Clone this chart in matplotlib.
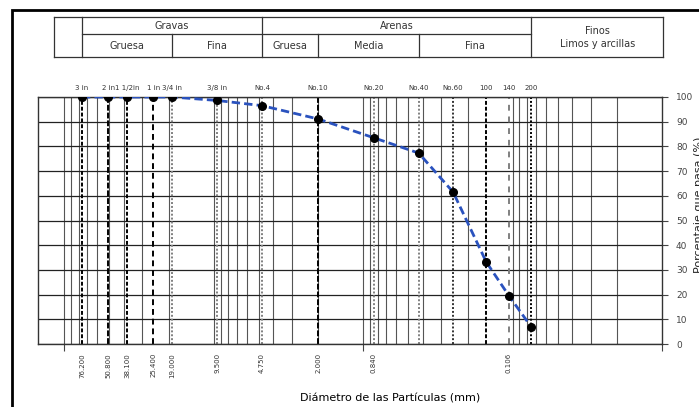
import numpy as np
import matplotlib.pyplot as plt
from matplotlib.patches import Rectangle

# --------------------------
# datos de la curva granulometrica
sieve_names = ["3 in", "2 in", "1 1/2in", "1 in", "3/4 in", "3/8 in", "No.4",
               "No.10", "No.20", "No.40", "No.60", "100", "140", "200"]
sieve_mm = [76.2, 50.8, 38.1, 25.4, 19.0, 9.5, 4.75, 2.0, 0.85, 0.425, 0.25,
            0.15, 0.106, 0.075]
passing = [100, 100, 100, 100, 100, 98.6, 96.5, 91.1, 83.5, 77.3, 61.5,
           33.2, 19.6, 6.9]

bottom_mm = [76.2, 50.8, 38.1, 25.4, 19.0, 9.5, 4.75, 2.0, 0.85, 0.106]
bottom_labels = ["76.200", "50.800", "38.100", "25.400", "19.000", "9.500",
                 "4.750", "2.000", "0.840", "0.106"]

# limites de la tabla de clasificacion (mm)
class_edges = [118, 76.2, 19.0, 4.75, 2.0, 0.425, 0.075, 0.0098]
sub_names = ["Gruesa", "Fina", "Gruesa", "Media", "Fina"]
y_ticks = list(range(0, 101, 10))

# estilo de cada linea de tamiz
line_styles = [
    ("black", (0, (2, 1))), ("black", (0, (3, 1))), ("black", (0, (2, 1))),
    ("black", (0, (3, 2))), ("gray", (0, (1, 1))), ("gray", (0, (1, 1))),
    ("gray", (0, (1, 1))), ("black", (0, (3, 1))), ("gray", (0, (1, 1))),
    ("gray", (0, (1, 1))), ("#333333", (0, (1, 1))), ("black", (0, (2, 1))),
    ("gray", (0, (3, 3))), ("black", (0, (1, 1))),
]

W, H = 699, 407
fig = plt.figure(figsize=(W / 100, H / 100), dpi=100)


def px(x0, y0, x1, y1):
    return [x0 / W, 1 - y1 / H, (x1 - x0) / W, (y1 - y0) / H]


# marco exterior
fig.patches.append(Rectangle((12 / W, -0.1), 1.2, 1 - 10 / H + 0.1,
                             transform=fig.transFigure, fill=False,
                             edgecolor="black", linewidth=2))

ax = fig.add_axes(px(38, 97, 662, 344))
ax.set_xscale("log")
ax.set_xlim(150, 0.01)
ax.set_ylim(0, 100)

# rejilla logaritmica
for dec in [0.01, 0.1, 1, 10, 100]:
    for m in range(1, 10):
        v = dec * m
        if 0.01 < v < 150:
            ax.axvline(v, color="#555555", lw=0.8, zorder=1)
for v in y_ticks:
    ax.axhline(v, color="#222222", lw=0.9, zorder=1)

# lineas de tamices
for s, (c, ls) in zip(sieve_mm, line_styles):
    ax.axvline(s, color=c, lw=1.4, linestyle=ls, zorder=2)

ax.plot(sieve_mm, passing, color="#2a52be", lw=2, linestyle=(0, (3, 1.5)),
        zorder=3)
ax.plot(sieve_mm, passing, "o", color="black", markersize=5.5, zorder=4)

ax.set_xticks([100, 1, 0.01])
ax.set_xticklabels([])
ax.xaxis.set_minor_locator(plt.NullLocator())
ax.tick_params(axis="x", length=5, direction="out", color="#444444")

ax.yaxis.tick_right()
ax.yaxis.set_label_position("right")
ax.set_yticks(y_ticks)
ax.tick_params(axis="y", length=4, labelsize=6.5, labelcolor="#444444",
               color="#444444", pad=6)
ax.set_ylabel("Porcentaje que pasa (%)", fontsize=8, color="#222222",
              rotation=90)
ax.yaxis.set_label_coords(1.052, 0.565)
for sp in ax.spines.values():
    sp.set_color("#333333")
    sp.set_linewidth(1)

tr = ax.get_xaxis_transform()
for s, n in zip(sieve_mm, sieve_names):
    ax.text(s, 1.036, n, transform=tr, fontsize=5, color="#333333",
            ha="center", va="center")
for s, n in zip(bottom_mm, bottom_labels):
    ax.text(s, -0.036, n, transform=tr, fontsize=5, color="#333333",
            ha="center", va="top", rotation=90)

ax.set_xlabel("Diámetro de las Partículas (mm)", fontsize=8)
ax.xaxis.set_label_coords(0.564, -0.2)

# tabla de clasificacion
hd = fig.add_axes(px(38, 17, 662, 57))
hd.set_xscale("log")
hd.set_xlim(150, 0.01)
hd.set_ylim(0, 1)
hd.axis("off")
kw = dict(color="#333333", lw=0.9, clip_on=False)
e = class_edges
hd.plot([e[0], e[-1]], [1, 1], **kw)
hd.plot([e[0], e[-1]], [0, 0], **kw)
hd.plot([e[1], e[6]], [0.575, 0.575], **kw)
for v in [e[0], e[1], e[3], e[6], e[-1]]:
    hd.plot([v, v], [0, 1], **kw)
for v in [e[2], e[4], e[5]]:
    hd.plot([v, v], [0, 0.575], **kw)


def mid(a, b):
    return np.sqrt(a * b)


tk = dict(fontsize=7, color="#333333", ha="center", va="center")
hd.text(mid(e[1], e[3]), 0.78, "Gravas", **tk)
hd.text(mid(e[3], e[6]), 0.78, "Arenas", **tk)
for i, n in enumerate(sub_names):
    hd.text(mid(e[i + 1], e[i + 2]), 0.27, n, **tk)
hd.text(mid(e[6], e[-1]), 0.65, "Finos", **tk)
hd.text(mid(e[6], e[-1]), 0.32, "Limos y arcillas", **tk)

fig.savefig("out.png", dpi=100)
